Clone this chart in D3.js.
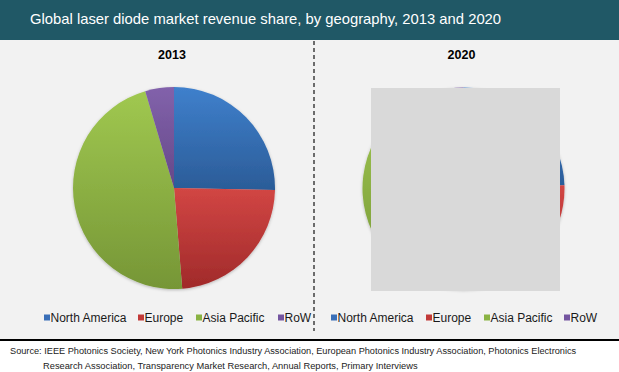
<!DOCTYPE html>
<html>
<head>
<meta charset="utf-8">
<script src="https://cdn.jsdelivr.net/npm/d3@7/dist/d3.min.js"></script>
<style>
  html, body { margin: 0; padding: 0; background: #ffffff; }
  svg { display: block; font-family: "Liberation Sans", Arial, sans-serif; }
</style>
</head>
<body>
<svg id="chart" width="619" height="372"></svg>
<script>
const titleText = "Global laser diode market revenue share, by geography, 2013 and 2020";
const categories = ["North America", "Europe", "Asia Pacific", "RoW"];
const years = ["2013", "2020"];
const share2013 = [25.3, 23.4, 46.7, 4.6];
const share2020 = [24.5, 22.5, 48.0, 5.0];
const sourceLines = [
  "Source: IEEE Photonics Society, New York Photonics Industry Association, European Photonics Industry Association, Photonics Electronics",
  "Research Association, Transparency Market Research, Annual Reports, Primary Interviews"
];
const colorTop = ["#3f80cc", "#d24644", "#a0c850", "#8262ab"];
const colorBottom = ["#2b5c98", "#a02a2a", "#769636", "#654888"];
const legendColor = ["#3a6fb8", "#c23a38", "#8ab343", "#7455a0"];

const W = 619, H = 372;
const svg = d3.select("#chart");
const defs = svg.append("defs");

categories.forEach((c, i) => {
  const g = defs.append("linearGradient").attr("id", "grad" + i)
    .attr("x1", 0).attr("y1", 0).attr("x2", 0).attr("y2", 1);
  g.append("stop").attr("offset", "0%").attr("stop-color", colorTop[i]);
  g.append("stop").attr("offset", "100%").attr("stop-color", colorBottom[i]);
});
const f = defs.append("filter").attr("id", "shadow")
  .attr("x", "-10%").attr("y", "-10%").attr("width", "120%").attr("height", "120%");
f.append("feDropShadow").attr("dx", 0).attr("dy", 1).attr("stdDeviation", 1.5)
  .attr("flood-color", "#000").attr("flood-opacity", 0.25);

// backgrounds
svg.append("rect").attr("x", 0).attr("y", 0).attr("width", W).attr("height", 340).attr("fill", "#f2f2f2");
svg.append("rect").attr("x", 0).attr("y", 0).attr("width", W).attr("height", 40).attr("fill", "#205866");
svg.append("text").attr("x", 30).attr("y", 23.5).attr("fill", "#ffffff")
  .attr("font-size", 14.8).text(titleText);

svg.append("line").attr("x1", 0).attr("x2", W).attr("y1", 340).attr("y2", 340)
  .attr("stroke", "#000").attr("stroke-width", 2);

// divider
svg.append("line").attr("x1", 314).attr("x2", 314).attr("y1", 41).attr("y2", 331)
  .attr("stroke", "#404040").attr("stroke-width", 1.5).attr("stroke-dasharray", "4,3");

const panels = [
  { year: years[0], data: share2013, cx: 174, cy: 188, r: 101, legendX: [44, 138, 196, 278] },
  { year: years[1], data: share2020, cx: 463.5, cy: 188.5, r: 101, legendX: [331, 426, 484, 564] }
];

const pie = d3.pie().sort(null).value(d => d);
const arc = d3.arc().innerRadius(0);

panels.forEach(p => {
  svg.append("text").attr("x", p.cx - 2).attr("y", 59).attr("text-anchor", "middle")
    .attr("font-size", 12.5).attr("font-weight", "bold").attr("fill", "#000").text(p.year);

  const g = svg.append("g").attr("transform", `translate(${p.cx},${p.cy})`)
    .attr("filter", "url(#shadow)");
  const arcs = pie(p.data);
  g.selectAll("path.slice").data(arcs).enter().append("path")
    .attr("class", "slice")
    .attr("d", d => arc.outerRadius(p.r)(d))
    .attr("fill", (d, i) => `url(#grad${i})`);

  const lg = svg.append("g");
  categories.forEach((c, i) => {
    lg.append("rect").attr("x", p.legendX[i]).attr("y", 314.5).attr("width", 6).attr("height", 6)
      .attr("fill", legendColor[i]);
    lg.append("text").attr("x", p.legendX[i] + 6.5).attr("y", 322)
      .attr("font-size", 12).attr("fill", "#1a1a1a").text(c);
  });
});

// overlay box on 2020 pie
svg.append("rect").attr("x", 371).attr("y", 88).attr("width", 189).attr("height", 203)
  .attr("fill", "#d9d9d9");

// source
svg.append("text").attr("x", 10).attr("y", 353.5).attr("font-size", 9.2).attr("fill", "#222")
  .text(sourceLines[0]);
svg.append("text").attr("x", 43).attr("y", 369).attr("font-size", 9.3).attr("fill", "#222")
  .text(sourceLines[1]);
</script>
</body>
</html>
